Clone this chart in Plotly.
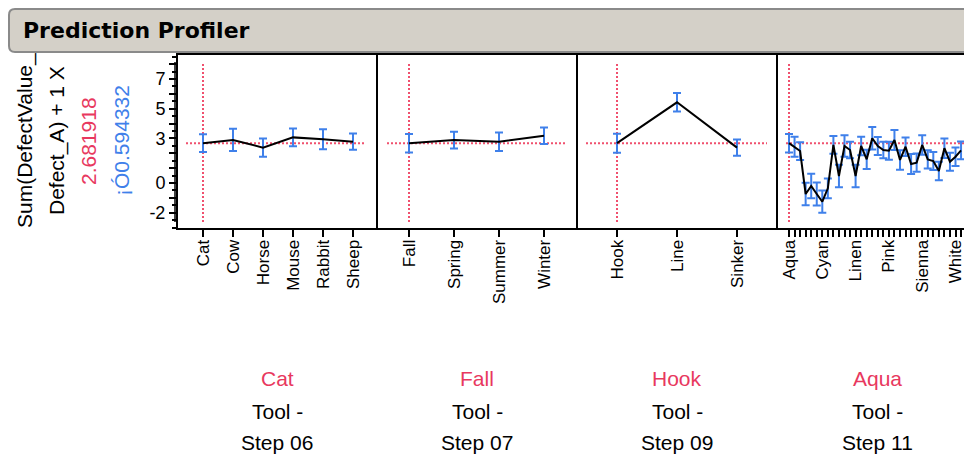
import plotly.graph_objects as go

W, H = 964, 454

# ---------------- data ----------------
current_value = 2.681918
ci_text = "¡Ó0.594332"

animal_cats = ["Cat", "Cow", "Horse", "Mouse", "Rabbit", "Sheep"]
animal_vals = [2.68, 2.90, 2.38, 3.07, 2.94, 2.78]
animal_err = [0.60, 0.75, 0.62, 0.60, 0.67, 0.55]

season_cats = ["Fall", "Spring", "Summer", "Winter"]
season_vals = [2.68, 2.89, 2.78, 3.18]
season_err = [0.62, 0.56, 0.62, 0.55]

tackle_cats = ["Hook", "Line", "Sinker"]
tackle_vals = [2.68, 5.43, 2.38]
tackle_err = [0.64, 0.62, 0.54]

color_cats = ["Aqua", "Azure", "Beige", "Black", "Blue", "Brown", "Cyan", "Gold",
              "Gray", "Green", "Indigo", "Khaki", "Linen", "Magenta", "Maroon", "Navy",
              "Olive", "Orange", "Pink", "Plum", "Purple", "Red", "Salmon", "Sand",
              "Sienna", "Silver", "Snow", "Tan", "Teal", "Violet", "White", "Yellow"]
color_vals = [2.68, 2.44, 2.15, -0.74, -0.20, -0.74, -1.26, -0.36, 2.56, 0.47, 2.49,
              2.22, 0.47, 2.49, 1.59, 3.01, 2.49, 2.22, 2.17, 2.89, 1.55, 2.44, 1.28,
              1.37, 2.56, 1.59, 1.48, 0.81, 2.34, 1.43, 1.77, 2.19]
color_err = [0.62, 0.67, 0.60, 0.75, 0.82, 0.78, 0.75, 0.67, 0.60, 0.76, 0.72, 0.56,
             0.75, 0.63, 0.65, 0.76, 0.60, 0.56, 0.60, 0.67, 0.66, 0.62, 0.67, 0.62,
             0.66, 0.62, 0.60, 0.62, 0.66, 0.60, 0.62, 0.60]
color_label_every = 6

factor_line1 = ["Tool -", "Tool -", "Tool -", "Tool -"]
factor_line2 = ["Step 06", "Step 07", "Step 09", "Step 11"]
current_levels = ["Cat", "Fall", "Hook", "Aqua"]

y_major = [8, 7, 6, 5, 4, 3, 2, 1, 0, -1, -2]
y_labeled = [7, 5, 3, 0, -2]

# ---------------- style ----------------
RED_LINE = "#f0506e"
RED_TXT = "#e8385e"
BLUE = "#3f80ea"
FONT = "Liberation Sans, Arial, sans-serif"
FS = 17
FS_Y = 18
FS_BIG = 21


def X(px):
    return px / W


def Y(py):
    return 1 - py / H


TOP, BOT = 54, 229
panels = [
    dict(cats=animal_cats, vals=animal_vals, err=animal_err, x0=177, x1=377,
         first=203, step=30, labels=animal_cats, hl=(0.045, 0.94)),
    dict(cats=season_cats, vals=season_vals, err=season_err, x0=377, x1=577,
         first=409, step=45, labels=season_cats, hl=(0.05, 0.94)),
    dict(cats=tackle_cats, vals=tackle_vals, err=tackle_err, x0=577, x1=777,
         first=617, step=60, labels=tackle_cats, hl=(0.045, 0.95)),
    dict(cats=color_cats, vals=color_vals, err=color_err, x0=777, x1=964,
         first=789, step=5.55,
         labels=[c if i % color_label_every == 0 else "" for i, c in enumerate(color_cats)],
         hl=(0.048, 1.0)),
]

fig = go.Figure()
shapes = []
annotations = []

yr = [(183 - BOT) / 14.86, (183 - TOP) / 14.86]

for k, p in enumerate(panels):
    n = k + 1
    xs = list(range(len(p["cats"])))
    xa = "x" if n == 1 else f"x{n}"
    ya = "y" if n == 1 else f"y{n}"
    fig.add_trace(go.Scatter(
        x=xs, y=p["vals"], mode="lines", xaxis=xa, yaxis=ya,
        line=dict(color="black", width=2),
        error_y=dict(type="data", array=p["err"], color=BLUE, thickness=2, width=4),
        showlegend=False, hoverinfo="skip"))
    lo = (p["x0"] - p["first"]) / p["step"]
    hi = (p["x1"] - p["first"]) / p["step"]
    fig.layout[f"xaxis{'' if n == 1 else n}"] = dict(
        domain=[X(p["x0"]), X(p["x1"])], range=[lo, hi], anchor=ya,
        tickmode="array", tickvals=xs, ticktext=p["labels"], tickangle=-90,
        ticks="outside", ticklen=7, tickwidth=1.5, tickcolor="black",
        showline=False, showgrid=False, zeroline=False, ticklabeloverflow="allow",
        ticklabelstandoff=-4,
        tickfont=dict(family=FONT, size=FS, color="black"), fixedrange=True)
    ydict = dict(domain=[Y(BOT), Y(TOP)], range=yr, anchor=xa,
                 showgrid=False, zeroline=False, showline=False, fixedrange=True)
    if n == 1:
        ydict.update(tickmode="array", tickvals=y_major,
                     ticktext=[str(v) if v in y_labeled else "" for v in y_major],
                     ticks="outside", ticklen=7, tickwidth=1.5, tickcolor="black",
                     tickfont=dict(family=FONT, size=FS_Y, color="black"),
                     minor=dict(dtick=0.5, tick0=0, ticks="outside", ticklen=4,
                                tickwidth=1.5, tickcolor="black"))
    else:
        ydict.update(showticklabels=False, ticks="")
    fig.layout[f"yaxis{'' if n == 1 else n}"] = ydict

    # current-value reference lines
    shapes.append(dict(type="line", xref=xa, yref=ya, x0=0, x1=0, y0=-2.62, y1=8.07,
                       line=dict(color=RED_LINE, width=2, dash="2px,2px"), layer="below"))
    shapes.append(dict(type="line", xref=f"{xa} domain", yref=ya, x0=p["hl"][0], x1=p["hl"][1],
                       y0=current_value, y1=current_value,
                       line=dict(color=RED_LINE, width=2, dash="2px,2px"), layer="below"))

    # factor labels under each panel
    cx = X(p["x0"] + 100)
    for txt, py, col in [(current_levels[k], 378, RED_TXT), (factor_line1[k], 411, "black"),
                         (factor_line2[k], 442, "black")]:
        annotations.append(dict(x=cx, y=Y(py), xref="paper", yref="paper", text=txt,
                                showarrow=False, font=dict(family=FONT, size=FS_BIG, color=col),
                                xanchor="center", yanchor="middle"))

# panel borders
for p in panels[:3]:
    shapes.append(dict(type="rect", xref="paper", yref="paper",
                       x0=X(p["x0"]), x1=X(p["x1"]), y0=Y(BOT), y1=Y(TOP),
                       line=dict(color="black", width=2)))
shapes.append(dict(type="path", xref="paper", yref="paper",
                   path=f"M {X(970)},{Y(TOP)} L {X(777)},{Y(TOP)} L {X(777)},{Y(BOT)} L {X(970)},{Y(BOT)}",
                   line=dict(color="black", width=2)))
# y axis spine
shapes.append(dict(type="line", xref="paper", yref="y", x0=X(175), x1=X(175), y0=-2.62, y1=8.15,
                   line=dict(color="black", width=1.5)))

# title bar (rounded)
l, t, r, b, rad = 9, 9, 975, 52, 6
path = (f"M {X(l + rad)},{Y(t)} L {X(r)},{Y(t)} L {X(r)},{Y(b)} L {X(l + rad)},{Y(b)} "
        f"Q {X(l)},{Y(b)} {X(l)},{Y(b - rad)} L {X(l)},{Y(t + rad)} "
        f"Q {X(l)},{Y(t)} {X(l + rad)},{Y(t)} Z")
shapes.append(dict(type="path", xref="paper", yref="paper", path=path,
                   fillcolor="#d4d0c8", line=dict(color="#8a8a8a", width=2), layer="below"))
annotations.append(dict(x=X(21), y=Y(31), xref="paper", yref="paper", text="<b>Prediction Profiler</b>",
                        showarrow=False, xanchor="left", yanchor="middle",
                        font=dict(family="DejaVu Sans, sans-serif", size=22, color="black")))

# y-axis title lines
ytitle = [("Sum(DefectValue_", 25, "black"), ("Defect_A) + 1 X", 57, "black"),
          (f"{current_value:.6f}", 88, RED_TXT), (ci_text, 121, BLUE)]
for txt, xc, col in ytitle:
    annotations.append(dict(x=X(xc), y=Y(141), xref="paper", yref="paper", text=txt,
                            textangle=-90, showarrow=False, xanchor="center", yanchor="middle",
                            font=dict(family=FONT, size=FS_BIG, color=col)))

fig.update_layout(width=W, height=H, margin=dict(l=0, r=0, t=0, b=0),
                  paper_bgcolor="white", plot_bgcolor="rgba(0,0,0,0)",
                  shapes=shapes, annotations=annotations, showlegend=False)

fig.write_html("out.html", config={"displayModeBar": False, "responsive": False},
               post_script="document.body.style.margin='0px';document.body.style.overflow='hidden';")
